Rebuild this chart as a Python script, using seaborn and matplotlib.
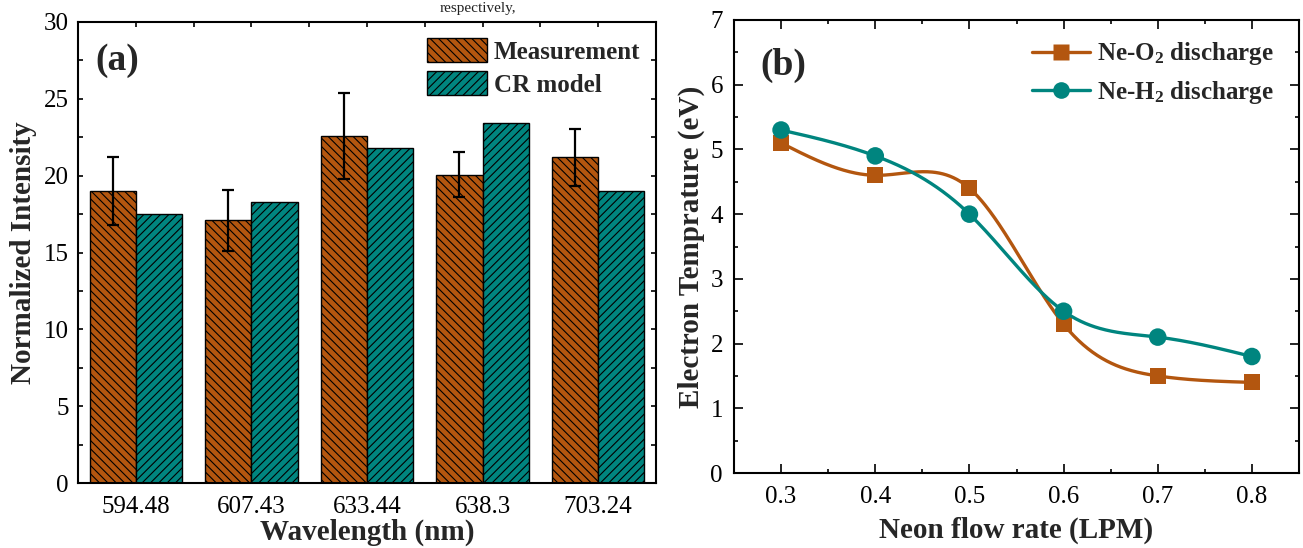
import numpy as np
import pandas as pd
import matplotlib
matplotlib.use("Agg")
import matplotlib.pyplot as plt
import seaborn as sns
from matplotlib.patches import Patch
from matplotlib.lines import Line2D
from matplotlib.ticker import MultipleLocator, FixedLocator

# ---------------- data ----------------
wavelengths = ["594.48", "607.43", "633.44", "638.3", "703.24"]
measurement = [19.0, 17.1, 22.6, 20.05, 21.2]
measurement_err = [2.2, 1.97, 2.8, 1.46, 1.85]
cr_model = [17.5, 18.3, 21.8, 23.4, 19.0]

flow_rate = [0.3, 0.4, 0.5, 0.6, 0.7, 0.8]
te_ne_o2 = [5.1, 4.6, 4.4, 2.3, 1.5, 1.4]
te_ne_h2 = [5.3, 4.9, 4.0, 2.5, 2.1, 1.8]

C_ORANGE = "#B3560F"
C_TEAL = "#00857F"

sns.set_theme(style="ticks")
plt.rcParams["font.family"] = ["Liberation Serif", "DejaVu Serif"]
plt.rcParams["mathtext.fontset"] = "custom"
plt.rcParams["mathtext.rm"] = "Liberation Serif"
plt.rcParams["mathtext.bf"] = "Liberation Serif:bold"
plt.rcParams["mathtext.it"] = "Liberation Serif:italic"
plt.rcParams["hatch.linewidth"] = 0.8
plt.rcParams["axes.linewidth"] = 1.5


def natural_spline(x, y, xs):
    x = np.asarray(x, float)
    y = np.asarray(y, float)
    n = len(x)
    h = np.diff(x)
    A = np.zeros((n, n))
    b = np.zeros(n)
    A[0, 0] = 1.0
    A[-1, -1] = 1.0
    for i in range(1, n - 1):
        A[i, i - 1] = h[i - 1]
        A[i, i] = 2 * (h[i - 1] + h[i])
        A[i, i + 1] = h[i]
        b[i] = 6 * ((y[i + 1] - y[i]) / h[i] - (y[i] - y[i - 1]) / h[i - 1])
    M = np.linalg.solve(A, b)
    idx = np.clip(np.searchsorted(x, xs) - 1, 0, n - 2)
    x0, x1 = x[idx], x[idx + 1]
    hh = x1 - x0
    t0 = x1 - xs
    t1 = xs - x0
    return (M[idx] * t0 ** 3 / (6 * hh) + M[idx + 1] * t1 ** 3 / (6 * hh)
            + (y[idx] / hh - M[idx] * hh / 6) * t0
            + (y[idx + 1] / hh - M[idx + 1] * hh / 6) * t1)


W, H = 1303, 548
fig = plt.figure(figsize=(W / 100, H / 100), dpi=100)
ax1 = fig.add_axes([78 / W, (H - 483) / H, 578 / W, 461 / H])
ax2 = fig.add_axes([734 / W, (H - 473) / H, 565 / W, 453 / H])

# fragment of a caption line at the very top of the image
fig.text(440 / W, 1 - 2 / H, "respectively,", fontsize=11, ha="left",
         va="top", color="#222222")

# ---------------- panel (a) ----------------
df = pd.DataFrame({
    "Wavelength": wavelengths * 2,
    "Intensity": measurement + cr_model,
    "Series": ["Measurement"] * len(wavelengths) + ["CR model"] * len(wavelengths),
})
sns.barplot(data=df, x="Wavelength", y="Intensity", hue="Series",
            palette=[C_ORANGE, C_TEAL], width=0.8, saturation=1,
            edgecolor="black", linewidth=1.0, errorbar=None,
            legend=False, ax=ax1)
for bar in ax1.containers[0]:
    bar.set_hatch("\\\\\\\\")
for bar in ax1.containers[1]:
    bar.set_hatch("////")
xs_err = [b.get_x() + b.get_width() / 2 for b in ax1.containers[0]]
ax1.errorbar(xs_err, measurement, yerr=measurement_err, fmt="none",
             ecolor="black", elinewidth=1.6, capsize=4, capthick=1.6, zorder=5)

ax1.set_xlim(-0.5, 4.5)
ax1.set_ylim(0, 30)
ax1.yaxis.set_major_locator(MultipleLocator(5))
ax1.yaxis.set_minor_locator(MultipleLocator(2.5))
ax1.xaxis.set_minor_locator(FixedLocator([0.5, 1.5, 2.5, 3.5]))
ax1.tick_params(axis="y", which="both", direction="in", left=True, right=True,
                length=3.5, width=1.2, labelsize=18, colors="black", pad=6.5)
ax1.tick_params(axis="x", which="both", direction="in", bottom=False, top=True,
                length=3.5, width=1.2, labelsize=18, colors="black", pad=9.5)
ax1.set_xlabel("Wavelength (nm)", fontsize=21, fontweight="bold", labelpad=0)
ax1.set_ylabel("Normalized Intensity", fontsize=21, fontweight="bold", labelpad=5)
for s in ax1.spines.values():
    s.set_visible(True)
    s.set_color("black")
    s.set_linewidth(1.5)
ax1.text(0.03, 0.917, "(a)", transform=ax1.transAxes, fontsize=27,
         fontweight="bold", ha="left", va="center")
leg_a = [Patch(facecolor=C_ORANGE, edgecolor="black", hatch="\\\\\\\\", label="Measurement"),
         Patch(facecolor=C_TEAL, edgecolor="black", hatch="////", label="CR model")]
ax1.legend(handles=leg_a, loc="upper left", bbox_to_anchor=(0.603, 0.965),
           frameon=False, borderpad=0, borderaxespad=0, handlelength=2.4,
           handleheight=1.1, handletextpad=0.3, labelspacing=0.3,
           prop={"weight": "bold", "size": 18})

# ---------------- panel (b) ----------------
xs = np.linspace(min(flow_rate), max(flow_rate), 400)
sns.lineplot(x=xs, y=natural_spline(flow_rate, te_ne_o2, xs), color=C_ORANGE,
             linewidth=2.4, ax=ax2, zorder=2)
sns.scatterplot(x=flow_rate, y=te_ne_o2, marker="s", s=130, color=C_ORANGE,
                edgecolor="none", ax=ax2, zorder=3)
sns.lineplot(x=xs, y=natural_spline(flow_rate, te_ne_h2, xs), color=C_TEAL,
             linewidth=2.4, ax=ax2, zorder=4)
sns.scatterplot(x=flow_rate, y=te_ne_h2, marker="o", s=160, color=C_TEAL,
                edgecolor="none", ax=ax2, zorder=5)

ax2.set_xlim(0.25, 0.85)
ax2.set_ylim(0, 7)
ax2.xaxis.set_major_locator(FixedLocator(flow_rate))
ax2.xaxis.set_minor_locator(MultipleLocator(0.05))
ax2.yaxis.set_major_locator(MultipleLocator(1))
ax2.yaxis.set_minor_locator(MultipleLocator(0.5))
ax2.set_xticklabels([f"{v:.1f}" for v in flow_rate])
ax2.tick_params(which="both", direction="in", top=True, right=True,
                width=1.2, labelsize=18, colors="black")
ax2.tick_params(axis="x", which="both", pad=9.5)
ax2.tick_params(axis="y", which="both", pad=8)
ax2.tick_params(which="major", length=6.5)
ax2.tick_params(which="minor", length=3.2)
ax2.set_xlabel("Neon flow rate (LPM)", fontsize=21, fontweight="bold", labelpad=6)
ax2.set_ylabel("Electron Temprature (eV)", fontsize=21, fontweight="bold")
for s in ax2.spines.values():
    s.set_visible(True)
    s.set_color("black")
    s.set_linewidth(1.5)
ax2.text(0.046, 0.90, "(b)", transform=ax2.transAxes, fontsize=27,
         fontweight="bold", ha="left", va="center")
leg_b = [Line2D([0], [0], color=C_ORANGE, lw=2.4, marker="s", ms=11,
                markeredgecolor="none", label=r"Ne-O$_\mathbf{2}$ discharge"),
         Line2D([0], [0], color=C_TEAL, lw=2.4, marker="o", ms=12,
                markeredgecolor="none", label=r"Ne-H$_\mathbf{2}$ discharge")]
ax2.legend(handles=leg_b, loc="upper left", bbox_to_anchor=(0.528, 0.955),
           frameon=False, borderpad=0, borderaxespad=0, handlelength=2.3,
           handletextpad=0.3, labelspacing=0.45,
           prop={"weight": "bold", "size": 18})

fig.savefig("out.png", dpi=100)
